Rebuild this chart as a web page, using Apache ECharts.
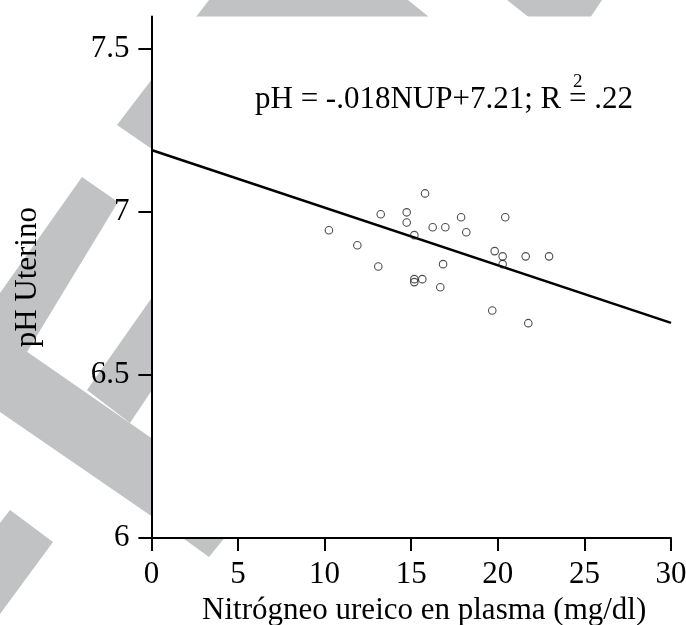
<!DOCTYPE html>
<html>
<head>
<meta charset="utf-8">
<script src="https://cdn.jsdelivr.net/npm/echarts@6/dist/echarts.min.js"></script>
<style>
html,body{margin:0;padding:0;background:#fff;}
#chart{width:686px;height:625px;}
</style>
</head>
<body>
<div id="chart"></div>
<script>
// ---- data ----
var nupValues = [15.80, 13.24, 14.74, 14.74, 10.25, 16.24, 16.97, 17.88, 20.43, 18.18, 15.18, 11.89, 19.82, 20.28, 21.61, 22.96, 20.28, 16.84, 13.10, 15.18, 15.18, 15.64, 16.68, 19.68, 21.76];
var phValues  = [7.057, 6.993, 6.999, 6.968, 6.944, 6.953, 6.953, 6.984, 6.984, 6.938, 6.929, 6.898, 6.880, 6.864, 6.864, 6.864, 6.840, 6.840, 6.833, 6.794, 6.785, 6.794, 6.769, 6.698, 6.659];
var fitX = [0, 30];
var fitY = [7.19, 6.66];
var xTicks = [0, 5, 10, 15, 20, 25, 30];
var yTicks = [6, 6.5, 7, 7.5];
var xAxisTitle = 'Nitrógneo ureico en plasma (mg/dl)';
var yAxisTitle = 'pH Uterino';
var equationText = 'pH = -.018NUP+7.21; R = .22';
var equationSup = '2';

// decorative watermark shapes in the page background (not data)
var watermark = [
  [[209,0],[408,0],[445,30],[186,30]],
  [[507,0],[602,0],[582,30],[545,30]],
  [[165,62],[117,125],[165,158]],
  [[82,177],[118,202],[27,352],[0,360],[0,293]],
  [[160,286],[87,390],[130,423],[160,378]],
  [[0,333],[160,444],[160,522],[0,412]],
  [[10,510],[53,542],[0,614],[0,523]],
  [[180,536],[226,536],[209,557]]
];

var FONT = 'Liberation Serif';
var FS = 31;
var scatterData = nupValues.map(function(x, i){ return [x, phValues[i]]; });
var fitData = fitX.map(function(x, i){ return [x, fitY[i]]; });

var graphics = watermark.map(function(pts){
  return { type: 'polygon', z: -100, silent: true, shape: { points: pts }, style: { fill: '#c1c2c4' } };
});
graphics.push({
  type: 'text', z: 100, left: 255, top: 84,
  style: { text: equationText, font: FS + 'px "' + FONT + '"', fill: '#000' }
});
graphics.push({
  type: 'text', z: 100, left: 573, top: 73,
  style: { text: equationSup, font: '19px "' + FONT + '"', fill: '#000' }
});

var chart = echarts.init(document.getElementById('chart'), null, { renderer: 'canvas' });
chart.setOption({
  backgroundColor: '#fff',
  animation: false,
  textStyle: { fontFamily: FONT },
  graphic: graphics,
  grid: {
    left: 151.4, right: 15, top: 16.4, bottom: 87,
    containLabel: false, outerBoundsMode: 'none',
    show: true, backgroundColor: '#fff', borderWidth: 0
  },
  xAxis: {
    type: 'value', min: 0, max: 30, interval: 5,
    name: xAxisTitle, nameLocation: 'middle', nameGap: 48,
    nameTextStyle: { fontFamily: FONT, fontSize: FS, color: '#000', padding: [0, 0, 0, 26] },
    axisLine: { show: true, onZero: false, lineStyle: { color: '#000', width: 2 } },
    axisTick: { show: true, length: 13, lineStyle: { color: '#000', width: 2 }, customValues: xTicks },
    axisLabel: { fontFamily: FONT, fontSize: FS, color: '#000', margin: 21, customValues: xTicks },
    splitLine: { show: false }
  },
  yAxis: {
    type: 'value', min: 6, max: 7.6, interval: 0.5,
    name: yAxisTitle, nameLocation: 'middle', nameGap: 108,
    nameTextStyle: { fontFamily: FONT, fontSize: FS, color: '#000' },
    axisLine: { show: true, onZero: false, lineStyle: { color: '#000', width: 2 } },
    axisTick: { show: true, length: 13, lineStyle: { color: '#000', width: 2 }, customValues: yTicks },
    axisLabel: { fontFamily: FONT, fontSize: FS, color: '#000', margin: 22, customValues: yTicks },
    splitLine: { show: false }
  },
  series: [
    {
      type: 'line', data: fitData, showSymbol: false, symbol: 'none',
      lineStyle: { color: '#000', width: 2.5 }, z: 3, silent: true
    },
    {
      type: 'scatter', data: scatterData, symbol: 'circle', symbolSize: 7.5,
      itemStyle: { color: 'rgba(255,255,255,0)', borderColor: '#222', borderWidth: 1.1 }, z: 4
    }
  ]
});
</script>
</body>
</html>
